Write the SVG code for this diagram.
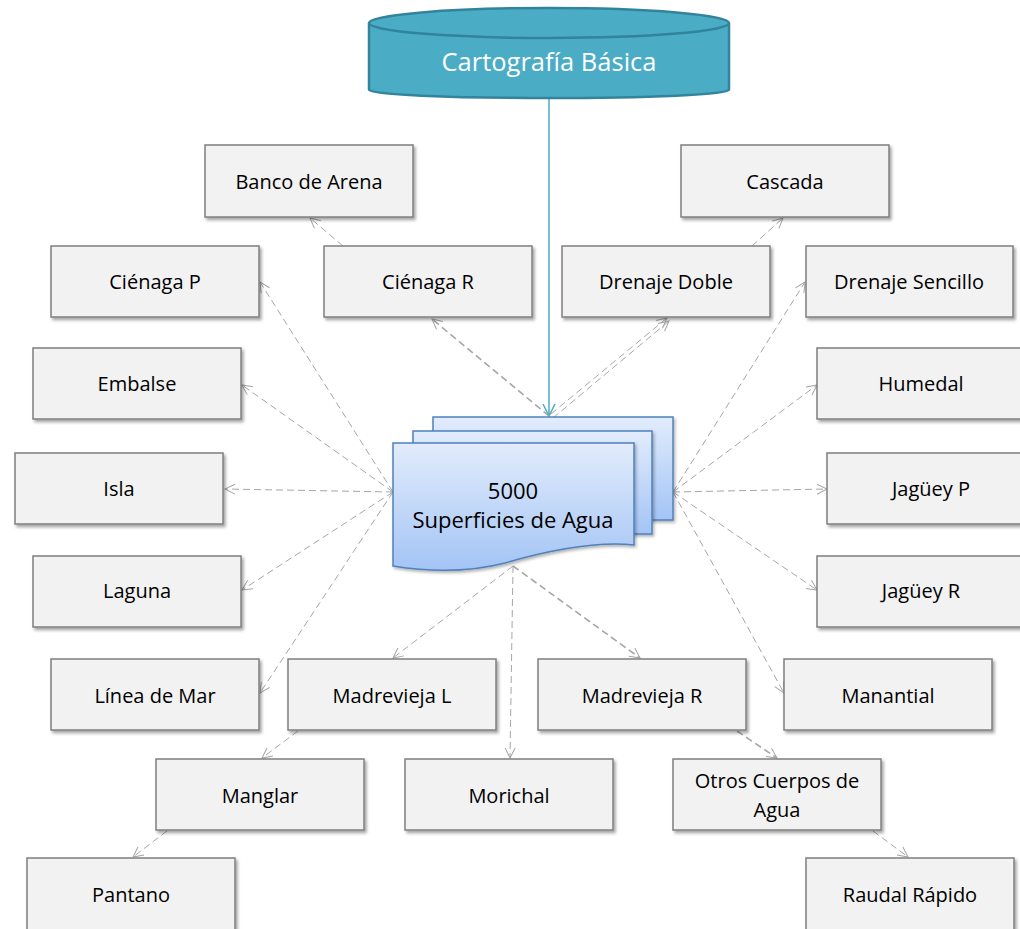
<svg xmlns="http://www.w3.org/2000/svg" width="1020" height="929" viewBox="0 0 1020 929">
<defs>
<style>
.box rect{fill:#f2f2f2;stroke:#7f7f7f;stroke-width:1.5;filter:url(#sh)}
.box text{font-family:"Open Sans","Liberation Sans",sans-serif;font-size:20px;fill:#000;text-anchor:middle}
.c line{stroke:#a6a6a6;stroke-width:1;stroke-dasharray:7 4;fill:none;marker-end:url(#ah)}
.c line.t{stroke-width:1.6}
</style>
<filter id="sh" x="-10%" y="-10%" width="130%" height="140%">
<feDropShadow dx="2" dy="2.5" stdDeviation="1.5" flood-color="#000" flood-opacity="0.35"/>
</filter>
<filter id="sh2" x="-10%" y="-10%" width="130%" height="140%">
<feDropShadow dx="1.5" dy="2" stdDeviation="1.5" flood-color="#000" flood-opacity="0.3"/>
</filter>
<marker id="ah" markerUnits="userSpaceOnUse" markerWidth="12" markerHeight="12" viewBox="0 0 12 12" refX="11" refY="6" orient="auto">
<path d="M1,1 L11,6 L1,11" fill="none" stroke="#a6a6a6" stroke-width="1"/>
</marker>
<marker id="ahb" markerUnits="userSpaceOnUse" markerWidth="14" markerHeight="14" viewBox="0 0 14 14" refX="13" refY="7" orient="auto">
<path d="M1,1 L13,7 L1,13" fill="none" stroke="#4bacc6" stroke-width="1.5"/>
</marker>
<linearGradient id="dg" x1="0" y1="0" x2="0" y2="1">
<stop offset="0" stop-color="#e2ecfc"/>
<stop offset="1" stop-color="#a3c4f5"/>
</linearGradient>
</defs>
<rect width="1020" height="929" fill="#ffffff"/>

<g id="connectors">
<line x1="549" y1="99" x2="549" y2="416" stroke="#4bacc6" stroke-width="1.5" marker-end="url(#ahb)"/>
<g class="c">
<line class="t" x1="549" y1="416" x2="432" y2="319"/>
<line x1="551" y1="414" x2="667" y2="318"/>
<line x1="553" y1="418" x2="669" y2="321"/>
<line x1="343" y1="246" x2="310" y2="218"/>
<line x1="752" y1="246" x2="783" y2="218"/>
<line x1="393" y1="492" x2="260" y2="282"/>
<line x1="393" y1="492" x2="242" y2="385"/>
<line x1="393" y1="492" x2="225" y2="489"/>
<line x1="393" y1="492" x2="242" y2="590"/>
<line x1="393" y1="492" x2="260" y2="693"/>
<line x1="673" y1="492" x2="805" y2="282"/>
<line x1="673" y1="492" x2="817" y2="385"/>
<line x1="673" y1="492" x2="827" y2="489"/>
<line x1="673" y1="492" x2="817" y2="590"/>
<line x1="673" y1="492" x2="784" y2="693"/>
<line x1="513" y1="566" x2="393" y2="658"/>
<line x1="513" y1="566" x2="510" y2="758"/>
<line class="t" x1="513" y1="566" x2="640" y2="658"/>
<line x1="298" y1="731" x2="262" y2="758"/>
<line x1="167" y1="831" x2="133" y2="857"/>
<line class="t" x1="737" y1="731" x2="777" y2="758"/>
<line x1="873" y1="831" x2="908" y2="857"/>
</g>
</g>

<g id="cartografia">
<path d="M369,23 V90 A180,8 0 0 0 729,90 V23" fill="#4bacc6" stroke="#31849b" stroke-width="2.5"/>
<ellipse cx="549" cy="23" rx="180" ry="15" fill="#4bacc6" stroke="#31849b" stroke-width="2.5"/>
<text x="549" y="71" font-family="'Open Sans','Liberation Sans',sans-serif" font-size="25.5" fill="#ffffff" text-anchor="middle">Cartografía Básica</text>
</g>

<g id="superficies">
<rect x="433" y="417" width="240" height="103" fill="url(#dg)" stroke="#4f81bd" stroke-width="1.5" filter="url(#sh2)"/>
<rect x="413" y="431" width="239" height="103" fill="url(#dg)" stroke="#4f81bd" stroke-width="1.5" filter="url(#sh2)"/>
<path d="M393,443 H634 V545 C595,541 550,550 505,563 C470,572 430,572 393,566 Z" fill="url(#dg)" stroke="#4f81bd" stroke-width="1.5" filter="url(#sh2)"/>
<text font-family="'Open Sans','Liberation Sans',sans-serif" font-size="22" fill="#000" text-anchor="middle"><tspan x="513" y="499">5000</tspan><tspan x="513" y="528">Superficies de Agua</tspan></text>
</g>

<g id="banco" class="box"><rect x="205" y="145" width="208" height="72"/><text x="309" y="189">Banco de Arena</text></g>
<g id="cascada" class="box"><rect x="681" y="145" width="208" height="72"/><text x="785" y="189">Cascada</text></g>
<g id="cienagaP" class="box"><rect x="51" y="246" width="208" height="71"/><text x="155" y="289">Ciénaga P</text></g>
<g id="cienagaR" class="box"><rect x="324" y="246" width="208" height="71"/><text x="428" y="289">Ciénaga R</text></g>
<g id="drenajeDoble" class="box"><rect x="562" y="246" width="208" height="71"/><text x="666" y="289">Drenaje Doble</text></g>
<g id="drenajeSencillo" class="box"><rect x="806" y="246" width="207" height="71"/><text x="909" y="289">Drenaje Sencillo</text></g>
<g id="embalse" class="box"><rect x="33" y="348" width="208" height="71"/><text x="137" y="391">Embalse</text></g>
<g id="humedal" class="box"><rect x="817" y="348" width="208" height="71"/><text x="921" y="391">Humedal</text></g>
<g id="isla" class="box"><rect x="15" y="453" width="208" height="71"/><text x="119" y="496">Isla</text></g>
<g id="jagueyP" class="box"><rect x="827" y="453" width="208" height="71"/><text x="931" y="496">Jagüey P</text></g>
<g id="laguna" class="box"><rect x="33" y="556" width="208" height="71"/><text x="137" y="598">Laguna</text></g>
<g id="jagueyR" class="box"><rect x="817" y="556" width="208" height="71"/><text x="921" y="598">Jagüey R</text></g>
<g id="lineaMar" class="box"><rect x="51" y="659" width="208" height="71"/><text x="155" y="703">Línea de Mar</text></g>
<g id="madreviejaL" class="box"><rect x="288" y="659" width="208" height="71"/><text x="392" y="703">Madrevieja L</text></g>
<g id="madreviejaR" class="box"><rect x="538" y="659" width="208" height="71"/><text x="642" y="703">Madrevieja R</text></g>
<g id="manantial" class="box"><rect x="784" y="659" width="208" height="71"/><text x="888" y="703">Manantial</text></g>
<g id="manglar" class="box"><rect x="156" y="759" width="208" height="71"/><text x="260" y="803">Manglar</text></g>
<g id="morichal" class="box"><rect x="405" y="759" width="208" height="71"/><text x="509" y="803">Morichal</text></g>
<g id="otros" class="box"><rect x="673" y="759" width="208" height="71"/><text><tspan x="777" y="788">Otros Cuerpos de</tspan><tspan x="777" y="817">Agua</tspan></text></g>
<g id="pantano" class="box"><rect x="27" y="858" width="208" height="75"/><text x="131" y="902">Pantano</text></g>
<g id="raudal" class="box"><rect x="806" y="858" width="208" height="75"/><text x="910" y="902">Raudal Rápido</text></g>
</svg>
